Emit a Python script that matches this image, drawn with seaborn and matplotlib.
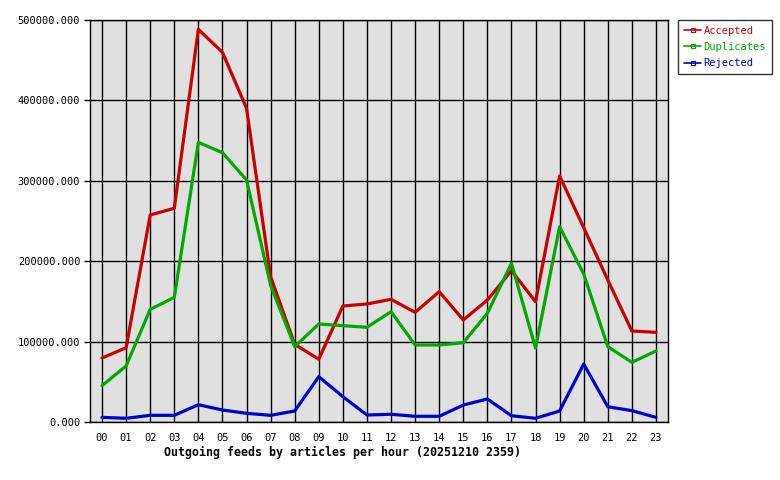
import matplotlib
matplotlib.use("Agg")
import matplotlib.pyplot as plt
import seaborn as sns
import pandas as pd
from matplotlib.lines import Line2D

hours = [f"{h:02d}" for h in range(24)]
accepted = [79600, 92400, 257500, 265800, 488400, 459800, 390200, 180700, 96600, 78000,
            144300, 146800, 152600, 136400, 162100, 126900, 151700, 188200, 149600, 306000,
            241700, 176600, 113200, 111500]
duplicates = [45200, 69700, 140100, 155000, 347800, 335000, 301000, 170000, 93700, 121900,
              119800, 117800, 137200, 95800, 95800, 98600, 135200, 197300, 92000, 242900,
              184100, 93700, 74200, 88300]
rejected = [5800, 4600, 8300, 8300, 21500, 14900, 10800, 8300, 13700, 56400,
            31500, 8700, 9600, 7100, 7100, 21100, 28600, 7800, 4600, 13700,
            72100, 19000, 14100, 5800]
series = ["Accepted", "Duplicates", "Rejected"]
colors = ["#cc0000", "#00aa00", "#0000cc"]
yticks = [0, 100000, 200000, 300000, 400000, 500000]

rows = []
for name, vals in zip(series, [accepted, duplicates, rejected]):
    for i, v in enumerate(vals):
        rows.append({"hour": i, "value": v, "series": name})
df = pd.DataFrame(rows)

sns.set_theme(style="white")
plt.rcParams['font.family'] = ['DejaVu Sans Mono']
plt.rcParams['text.color'] = 'black'
plt.rcParams['xtick.color'] = 'black'
plt.rcParams['ytick.color'] = 'black'
plt.rcParams['axes.labelcolor'] = 'black'

fig = plt.figure(figsize=(7.8, 4.8), dpi=100)
ax = fig.add_axes([90/780, 1-422/480, 578/780, 402/480])
ax.set_facecolor("#e0e0e0")

sns.lineplot(data=df, x="hour", y="value", hue="series", palette=colors,
             hue_order=series, linewidth=2.3, ax=ax, legend=False, zorder=3)

ax.set_xlim(-0.5, 23.5)
ax.set_ylim(0, 500000)
ax.set_xticks(range(24))
ax.set_xticklabels(hours, fontsize=7.5)
ax.set_yticks(yticks)
ax.set_yticklabels([f"{v}.000" for v in yticks], fontsize=7.5)
ax.tick_params(axis="y", length=4, width=1, color="black", pad=3, direction="out", left=True)
ax.tick_params(axis="x", length=0, pad=8, bottom=False)
ax.grid(True, color="black", linewidth=1, zorder=1)
ax.set_axisbelow(True)
for s in ax.spines.values():
    s.set_color("black")
    s.set_linewidth(1)
ax.set_xlabel("")
ax.set_ylabel("")

fig.text(343/780, 1-452/480, "Outgoing feeds by articles per hour (20251210 2359)",
         ha="center", va="center", fontsize=8.4, fontweight="bold", color="black")

handles = [Line2D([0], [0], color=c, lw=1.2, marker="s", markersize=3,
                  markerfacecolor="none", markeredgewidth=0.8) for c in colors]
leg = fig.legend(handles, series, loc="upper left", bbox_to_anchor=(678/780, 1-20/480),
                 frameon=True, fontsize=7.5, labelcolor=colors, handlelength=1.7,
                 handletextpad=0.2, borderpad=0.55, labelspacing=0.6, fancybox=False,
                 borderaxespad=0)
leg.get_frame().set_edgecolor("black")
leg.get_frame().set_linewidth(1)

fig.savefig("out.png", dpi=100, facecolor="white")
